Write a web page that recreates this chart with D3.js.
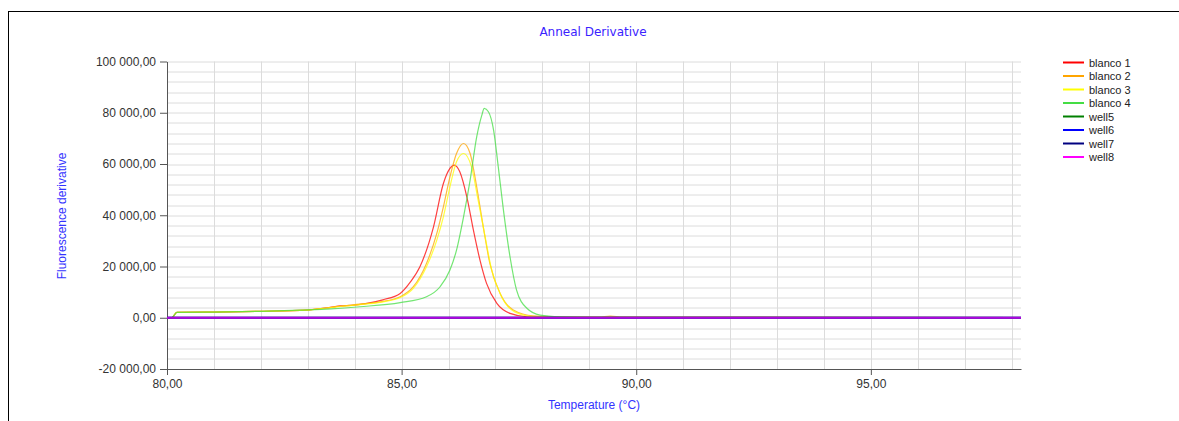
<!DOCTYPE html>
<html>
<head>
<meta charset="utf-8">
<script src="https://cdn.jsdelivr.net/npm/d3@7"></script>
<style>
  body { margin: 0; background: #fff; }
  svg text { font-family: "Liberation Sans", Arial, sans-serif; }
</style>
</head>
<body>
<div id="chart"></div>
<script>
// series: temperature (°C) and derivative values
const seriesNames = ['blanco 1', 'blanco 2', 'blanco 3', 'blanco 4', 'well5', 'well6', 'well7', 'well8'];
const seriesColors = ['#ff0000', '#ffa500', '#ffff00', '#44dd44', '#008000', '#0000ff', '#000080', '#ff00ff'];

const blanco1T = [80.0, 80.1, 80.21, 81.0, 82.0, 82.98, 83.4, 83.69, 84.0, 84.26, 84.6, 84.97, 85.18, 85.39, 85.68, 85.89, 86.03, 86.12, 86.24, 86.39, 86.53, 86.67, 86.81, 87.03, 87.31, 87.67, 88.2, 90.0, 95.0, 98.2];
const blanco1V = [0, 0, 2100, 2200, 2500, 3000, 3900, 4600, 4900, 5600, 7000, 9500, 13800, 19900, 35500, 52400, 58300, 59600, 57000, 47200, 34200, 22500, 13400, 5600, 1700, 400, 200, 150, 100, 100];

const blanco2T = [80.0, 80.1, 80.21, 81.0, 82.0, 82.98, 83.4, 83.69, 84.11, 84.54, 84.97, 85.25, 85.53, 85.75, 85.89, 86.03, 86.17, 86.32, 86.46, 86.6, 86.74, 86.88, 87.1, 87.38, 87.81, 88.5, 89.2, 89.45, 89.7, 92.0, 98.2];
const blanco2V = [0, 0, 2100, 2200, 2500, 3000, 3800, 4500, 5300, 6200, 8200, 12100, 21200, 32900, 43300, 55000, 64100, 68000, 64100, 51100, 35500, 21200, 9500, 3000, 700, 300, 250, 650, 250, 150, 100];

const blanco3T = [80.0, 80.1, 80.21, 81.0, 82.0, 82.98, 83.4, 83.69, 84.11, 84.54, 84.97, 85.25, 85.53, 85.75, 85.89, 86.03, 86.17, 86.32, 86.49, 86.63, 86.78, 86.92, 87.13, 87.41, 87.85, 88.5, 90.0, 95.0, 98.2];
const blanco3V = [0, 0, 2100, 2200, 2500, 3000, 3800, 4400, 5100, 6000, 7900, 11500, 19900, 30300, 39400, 51100, 60900, 64100, 58900, 45900, 31600, 18600, 8200, 2300, 400, 250, 150, 100, 100];

const blanco4T = [80.0, 80.1, 80.21, 81.0, 82.0, 82.83, 83.5, 84.11, 84.97, 85.53, 85.82, 86.03, 86.17, 86.32, 86.46, 86.6, 86.71, 86.76, 86.85, 86.96, 87.06, 87.17, 87.31, 87.45, 87.67, 87.95, 88.38, 89.0, 92.0, 98.2];
const blanco4V = [0, 0, 2100, 2200, 2500, 3000, 3500, 4300, 5900, 8200, 12100, 18600, 26400, 39400, 53700, 70600, 79100, 81700, 80400, 73200, 58900, 42000, 23800, 10800, 3700, 1050, 400, 200, 150, 100];

const wellT = [80.0, 98.2];
const wellV = [0, 0];

const seriesT = [blanco1T, blanco2T, blanco3T, blanco4T, wellT, wellT, wellT, wellT];
const seriesV = [blanco1V, blanco2V, blanco3V, blanco4V, wellV, wellV, wellV, wellV];

const xTicks = [80, 85, 90, 95];
const yTicks = [-20000, 0, 20000, 40000, 60000, 80000, 100000];

const W = 1179, H = 421;
const margin = {top: 61.5, left: 167, right: 158, bottom: 52};
const plotW = W - margin.left - margin.right;
const plotH = H - margin.top - margin.bottom;

const svg = d3.select('#chart').append('svg')
    .attr('width', W)
    .attr('height', H);

// outer frame
svg.append('rect')
    .attr('x', 8.5).attr('y', 11.5)
    .attr('width', 1300).attr('height', 600)
    .attr('fill', 'none')
    .attr('stroke', '#000');

const g = svg.append('g')
    .attr('transform', `translate(${margin.left},${margin.top})`);

const xScale = d3.scaleLinear().domain([80, 98.2]).range([0, plotW]);
const yScale = d3.scaleLinear().domain([-20000, 100000]).range([plotH, 0]);

const fmt = v => {
    const s = d3.format(',.2f')(v);
    return s.replace(/,/g, ' ').replace('.', ',').replace('−', '-');
};

// gridlines
g.append('g')
    .selectAll('line')
    .data(d3.range(81, 98.5, 1))
    .enter().append('line')
    .attr('x1', d => Math.round(xScale(d)) + 0.5)
    .attr('x2', d => Math.round(xScale(d)) + 0.5)
    .attr('y1', 0).attr('y2', plotH)
    .attr('stroke', '#dcdcdc');

g.append('g')
    .selectAll('line')
    .data(d3.range(-16000, 100001, 4000))
    .enter().append('line')
    .attr('x1', 0).attr('x2', plotW)
    .attr('y1', d => Math.round(yScale(d)) + 0.5)
    .attr('y2', d => Math.round(yScale(d)) + 0.5)
    .attr('stroke', '#dcdcdc');

// axes
const yAxis = g.append('g')
    .call(d3.axisLeft(yScale).tickValues(yTicks).tickFormat(fmt).tickSize(7).tickSizeOuter(0));
const xAxis = g.append('g')
    .attr('transform', `translate(0,${plotH})`)
    .call(d3.axisBottom(xScale).tickValues(xTicks).tickFormat(d => d3.format('.2f')(d).replace('.', ',')).tickSize(6).tickSizeOuter(0));

[yAxis, xAxis].forEach(a => {
    a.select('.domain').attr('stroke', '#555');
    a.selectAll('.tick line').attr('stroke', '#555');
    a.selectAll('.tick text')
        .attr('fill', '#333')
        .style('font-size', '12px');
});
yAxis.selectAll('.tick text').attr('x', -11);
xAxis.selectAll('.tick text').attr('y', 10);

// lines
const line = d3.line()
    .x(d => xScale(d[0]))
    .y(d => yScale(d[1]))
    .curve(d3.curveMonotoneX);

seriesNames.forEach((name, i) => {
    const pts = seriesT[i].map((t, j) => [t, seriesV[i][j]]);
    g.append('path')
        .datum(pts)
        .attr('fill', 'none')
        .attr('stroke', seriesColors[i])
        .attr('stroke-width', i < 4 ? 1.2 : 2)
        .attr('stroke-opacity', i < 4 ? 0.75 : 0.7)
        .attr('d', line);
});

// titles
svg.append('text')
    .attr('x', 593).attr('y', 36)
    .attr('text-anchor', 'middle')
    .attr('fill', '#3a22ff')
    .style('font-family', '"DejaVu Sans", Verdana, sans-serif')
    .style('font-size', '12px')
    .text('Anneal Derivative');

svg.append('text')
    .attr('x', 594).attr('y', 409)
    .attr('text-anchor', 'middle')
    .attr('fill', '#3333ff')
    .style('font-size', '12px')
    .text('Temperature (°C)');

svg.append('text')
    .attr('transform', 'translate(66,216) rotate(-90)')
    .attr('text-anchor', 'middle')
    .attr('fill', '#3333ff')
    .style('font-size', '12px')
    .text('Fluorescence derivative');

// legend
const legend = svg.append('g')
    .attr('transform', 'translate(1063,62.5)');

seriesNames.forEach((name, i) => {
    const row = legend.append('g')
        .attr('transform', `translate(0,${i * 13.5})`);
    row.append('line')
        .attr('x1', 0).attr('x2', 21)
        .attr('stroke', seriesColors[i])
        .attr('stroke-width', 2);
    row.append('text')
        .attr('x', 26).attr('y', 4)
        .attr('fill', '#222')
        .style('font-size', '11px')
        .text(name);
});
</script>
</body>
</html>
